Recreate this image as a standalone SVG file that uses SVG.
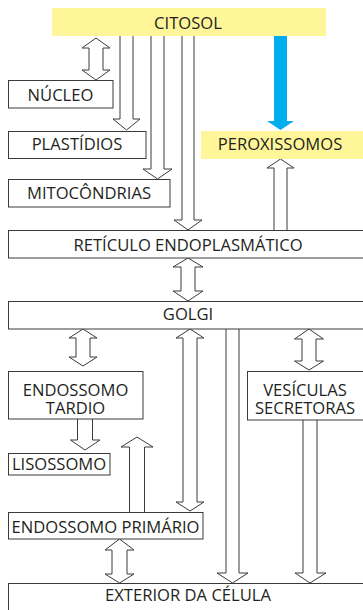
<svg xmlns="http://www.w3.org/2000/svg" width="363" height="610" viewBox="0 0 363 610">
<style>
.bg{fill:#ffffff}
.box{fill:#ffffff;stroke:#3a3a3a;stroke-width:1}
.yel{fill:#fff69a;stroke:none}
.arr{fill:#ffffff;stroke:#3a3a3a;stroke-width:1;stroke-linejoin:miter}
.blue{fill:#00aeef;stroke:none}
text{font-family:"Open Sans","Noto Sans",sans-serif;font-size:16.6px;font-weight:500;fill:#231f20;text-anchor:middle}
</style>
<rect class="bg" x="0" y="0" width="363" height="610"/>
<g id="connectors">
<polygon class="arr" points="96,38 110,48 103,48 103,70 110,70 96,80 82,70 89,70 89,48 82,48"/>
<polygon class="arr" points="120,34 133,34 133,119 140,119 126.5,130 113,119 120,119"/>
<polygon class="arr" points="151,34 164,34 164,169 172,169 157.5,179 143,169 151,169"/>
<polygon class="arr" points="182,34 194,34 194,220 202,220 188,230 174,220 182,220"/>
<polygon class="blue" points="274,34 287,34 287,121 294,121 280.5,130 267,121 274,121"/>
<polygon class="arr" points="280.5,159 294,168 287,168 287,232 274,232 274,168 267,168"/>
<polygon class="arr" points="188,258 203,267 195,267 195,291 203,291 188,301 173,291 181,291 181,267 173,267"/>
<polygon class="arr" points="83,329 97,338 90,338 90,357 97,357 83,366 69,357 76,357 76,338 69,338"/>
<polygon class="arr" points="190,329 204,338 197,338 197,502 204,502 190,511 176,502 183,502 183,338 176,338"/>
<polygon class="arr" points="226,328 239,328 239,573 248,573 232.5,583 217,573 226,573"/>
<polygon class="arr" points="309,329 323.5,339 316,339 316,361 323.5,361 309,370 294.5,361 302,361 302,339 294.5,339"/>
<polygon class="arr" points="303,419 317,419 317,573 326,573 310,583 295,573 303,573"/>
<polygon class="arr" points="77.5,418 92.5,418 92.5,440 100,440 85,450 70.5,440 77.5,440"/>
<polygon class="arr" points="137,437 153,447 144.5,447 144.5,514 129.5,514 129.5,447 121,447"/>
<polygon class="arr" points="119.5,539 134,550 127,550 127,574 134,574 119.5,583 105,574 112,574 112,550 105,550"/>
</g>
<g id="citosol"><rect class="yel" x="52" y="8" width="274" height="28"/><text x="188" y="29">CITOSOL</text></g>
<g id="nucleo"><rect class="box" x="8.5" y="80.5" width="104.5" height="27.5"/><text x="60.5" y="101">NÚCLEO</text></g>
<g id="plastidios"><rect class="box" x="8.5" y="131.5" width="137.5" height="27"/><text x="77" y="150">PLASTÍDIOS</text></g>
<g id="peroxissomos"><rect class="yel" x="201" y="131" width="162" height="28"/><text x="280" y="150">PEROXISSOMOS</text></g>
<g id="mitocondrias"><rect class="box" x="8.5" y="179.5" width="161.5" height="27.5"/><text x="89" y="199">MITOCÔNDRIAS</text></g>
<g id="reticulo"><rect class="box" x="8.5" y="230.5" width="360" height="27.5"/><text x="188" y="251">RETÍCULO ENDOPLASMÁTICO</text></g>
<g id="golgi"><rect class="box" x="8.5" y="301.5" width="360" height="27.5"/><text x="188" y="320">GOLGI</text></g>
<g id="endossomo-tardio"><rect class="box" x="8.5" y="371.5" width="134.5" height="47.5"/><text x="75.5" y="396">ENDOSSOMO<tspan x="75.5" dy="18">TARDIO</tspan></text></g>
<g id="vesiculas"><rect class="box" x="247.5" y="371.5" width="120" height="48.5"/><text x="305" y="396">VESÍCULAS<tspan x="305" dy="18">SECRETORAS</tspan></text></g>
<g id="lisossomo"><rect class="box" x="8.5" y="453.5" width="101.5" height="21.5"/><text x="59" y="470">LISOSSOMO</text></g>
<g id="endossomo-primario"><rect class="box" x="8.5" y="512.5" width="194.5" height="26.5"/><text x="105.5" y="533">ENDOSSOMO PRIMÁRIO</text></g>
<g id="exterior"><rect class="box" x="8.5" y="583.5" width="360" height="40"/><text x="188" y="601">EXTERIOR DA CÉLULA</text></g>
</svg>
